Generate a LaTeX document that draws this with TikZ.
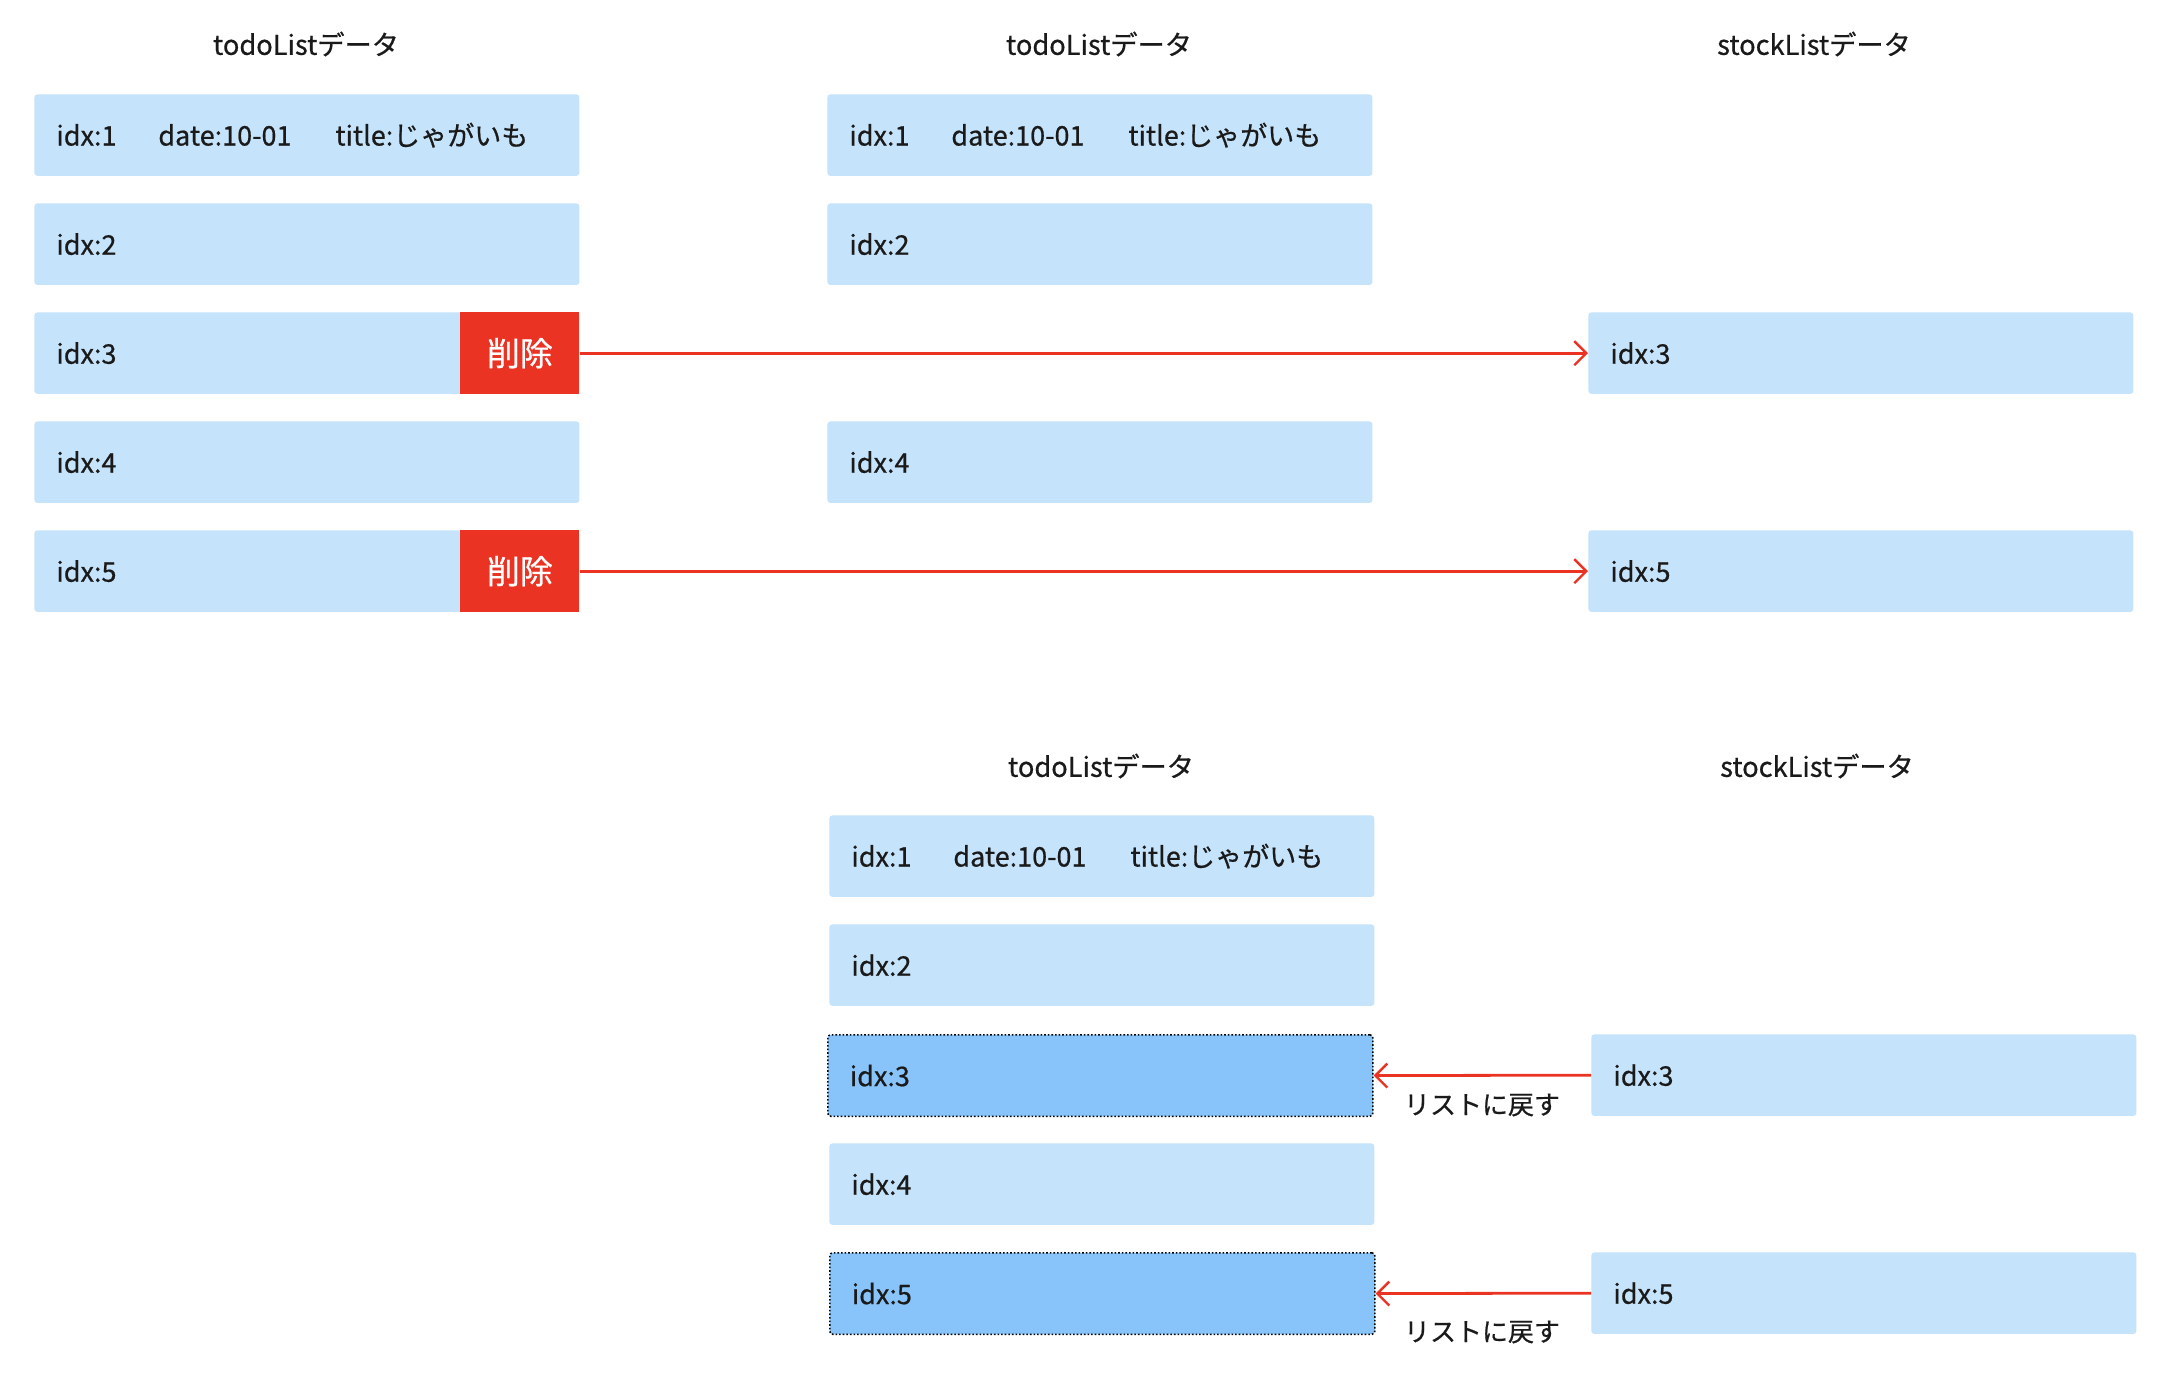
\documentclass[tikz,border=0pt]{standalone}
\usepackage{fontspec}
\setmainfont[FakeBold=0.6]{Noto Sans CJK JP}
\usetikzlibrary{arrows.meta}
\definecolor{lb}{HTML}{C5E3FB}
\definecolor{db}{HTML}{88C4F9}
\definecolor{rd}{HTML}{EB3323}
\definecolor{tx}{HTML}{1A1A1A}
\begin{document}
\begin{tikzpicture}[x=0.5pt,y=-0.5pt,
  rowbox/.style={fill=lb, rounded corners=1.5pt, draw=none, minimum width=272.5pt,
    minimum height=40.75pt, inner xsep=11pt, inner ysep=0pt, text width=250.5pt,
    align=left, anchor=north west, text=tx, font=\fontsize{13.5pt}{16pt}\selectfont},
  darkbox/.style={rowbox, fill=db, draw=black, densely dotted, line width=0.8pt},
  delbox/.style={fill=rd, draw=none, minimum width=59.5pt, minimum height=40.75pt,
    inner sep=0pt, anchor=north east, text=white, font=\fontsize{16.5pt}{19pt}\selectfont},
  ttl/.style={text=tx, font=\fontsize{13.6pt}{16pt}\selectfont, inner sep=0pt},
  note/.style={text=tx, font=\fontsize{13pt}{15pt}\selectfont, inner sep=0pt},
  arr/.style={draw=rd, line width=1.4pt, -{Straight Barb[length=6pt,width=12pt,line width=1.2pt]}}
]
\useasboundingbox (0,0) rectangle (2160,1388);
\fill[white] (0,0) rectangle (2160,1388);

% ---- top: first todoList
\node[ttl] (t1) at (306,44) {todoListデータ};
\node[rowbox] (a1) at (34,94) {\makebox[51pt][l]{idx:1}\makebox[88.5pt][l]{date:10-01}title:じゃがいも};
\node[rowbox] (a2) at (34,203) {idx:2};
\node[rowbox] (a3) at (34,312) {idx:3};
\node[rowbox] (a4) at (34,421) {idx:4};
\node[rowbox] (a5) at (34,530) {idx:5};
\node[delbox] (d3) at (a3.north east) {削除};
\node[delbox] (d5) at (a5.north east) {削除};

% ---- top: second todoList
\node[ttl] (t2) at (1099,44) {todoListデータ};
\node[rowbox] (b1) at (827,94) {\makebox[51pt][l]{idx:1}\makebox[88.5pt][l]{date:10-01}title:じゃがいも};
\node[rowbox] (b2) at (827,203) {idx:2};
\node[rowbox] (b4) at (827,421) {idx:4};

% ---- top: stockList
\node[ttl] (t3) at (1814,44) {stockListデータ};
\node[rowbox] (s3) at (1588,312) {idx:3};
\node[rowbox] (s5) at (1588,530) {idx:5};

\draw[arr] (d3.east) -- (s3.west);
\draw[arr] (d5.east) -- (s5.west);

% ---- bottom: todoList
\node[ttl] (t4) at (1101,766) {todoListデータ};
\node[rowbox] (c1) at (829,815) {\makebox[51pt][l]{idx:1}\makebox[88.5pt][l]{date:10-01}title:じゃがいも};
\node[rowbox] (c2) at (829,924) {idx:2};
\node[darkbox] (c3) at (827,1034) {idx:3};
\node[rowbox] (c4) at (829,1143) {idx:4};
\node[darkbox] (c5) at (829,1252) {idx:5};

% ---- bottom: stockList
\node[ttl] (t5) at (1817,766) {stockListデータ};
\node[rowbox] (u3) at (1591,1034) {idx:3};
\node[rowbox] (u5) at (1591,1252) {idx:5};

\draw[arr] (u3.west) -- (c3.east);
\draw[arr] (u5.west) -- (c5.east);
\node[note] (n3) at (1482,1105) {リストに戻す};
\node[note] (n5) at (1482,1332) {リストに戻す};
\end{tikzpicture}
\end{document}
